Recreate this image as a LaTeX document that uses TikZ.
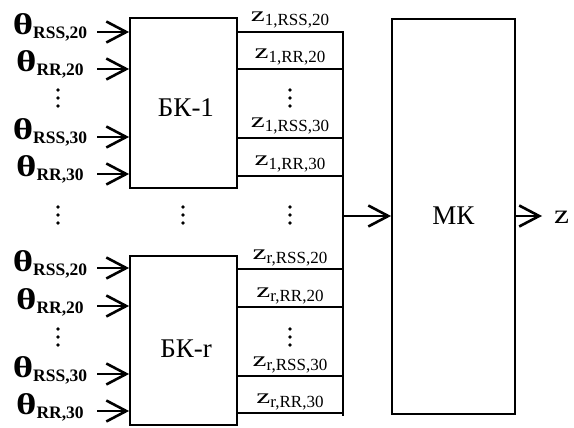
\documentclass[tikz,border=0pt]{standalone}
\usepackage{fontspec}
\setmainfont{Liberation Serif}
\usetikzlibrary{arrows.meta}
\newcommand\thlab[1]{{\fontsize{30}{32}\selectfont\bfseries\scalebox{1.3}[1]{θ}}\raisebox{-4pt}{\fontsize{17.5}{20}\selectfont\bfseries #1}}
\newcommand\zlab[1]{{\fontsize{21}{24}\selectfont\scalebox{1.5}[1]{z}}\raisebox{-4pt}{\fontsize{17}{20}\selectfont #1}}
\begin{document}
\begin{tikzpicture}[x=1pt,y=-1pt,
  blk/.style={draw, line width=1.8pt, inner sep=0},
  ln/.style={line width=1.8pt},
  arr/.style={line width=2.6pt, -{Straight Barb[length=20pt,width=21pt,line width=2.6pt]}},
  big/.style={font=\fontsize{27}{30}\selectfont, anchor=base, inner sep=0},
  lab/.style={anchor=base, inner sep=0},
]
\useasboundingbox (0,0) rectangle (574,428);
% blocks
\node[blk, minimum width=107pt, minimum height=170pt] (b1) at (183.5,103) {};
\node[blk, minimum width=107pt, minimum height=169pt] (br) at (183.5,340.5) {};
\node[blk, minimum width=123pt, minimum height=395pt] (mk) at (453.5,216.5) {};
\node[big] (tb1) at (186,117) {БК-1};
\node[big] (tbr) at (186,357) {БК-r};
\node[big] (tmk) at (453.5,225) {МК};
% inputs
\foreach \n/\y/\s in {a/32/{RSS,20}, b/69/{RR,20}, c/137/{RSS,30}, d/174/{RR,30}} {
  \coordinate (i1\n) at (97,\y);
  \node[lab] (th1\n) at (50,\y+3) {\thlab{\s}};
  \draw[arr] (i1\n) -- (b1.west |- i1\n);
}
\foreach \n/\y/\s in {a/268/{RSS,20}, b/306/{RR,20}, c/374/{RSS,30}, d/411/{RR,30}} {
  \coordinate (ir\n) at (97,\y);
  \node[lab] (thr\n) at (50,\y+3) {\thlab{\s}};
  \draw[arr] (ir\n) -- (br.west |- ir\n);
}
% outputs
\foreach \n/\y/\s in {a/32/{1,RSS,20}, b/69/{1,RR,20}, c/138/{1,RSS,30}, d/176/{1,RR,30}} {
  \coordinate (o1\n) at (343,\y);
  \node[lab] (z1\n) at (290,\y-10) {\zlab{\s}};
  \draw[ln] (b1.east |- o1\n) -- (o1\n);
}
\foreach \n/\y/\s in {a/269/{r,RSS,20}, b/307/{r,RR,20}, c/376/{r,RSS,30}, d/413/{r,RR,30}} {
  \coordinate (or\n) at (343,\y);
  \node[lab] (zr\n) at (290,\y-10) {\zlab{\s}};
  \draw[ln] (br.east |- or\n) -- (or\n);
}
% collector
\coordinate (ctop) at (343,31.1);
\coordinate (cbot) at (343,416);
\draw[ln] (ctop) -- (cbot);
\coordinate (cm) at (343,216);
\draw[arr] (cm) -- (mk.west |- cm);
% output
\coordinate (zt) at (542,216);
\draw[arr] (mk.east |- cm) -- (zt);
\node[lab, anchor=base west] (zout) at (554,223) {\fontsize{27}{30}\selectfont\scalebox{1.25}[1]{z}};
% dots
\foreach \x/\y in {58/98, 290/98, 58/215, 183/215, 290/215, 58/337, 290/337}
  \foreach \d in {-8,0,8}
    \fill (\x,\y+\d) circle (1.9pt);
\end{tikzpicture}
\end{document}
